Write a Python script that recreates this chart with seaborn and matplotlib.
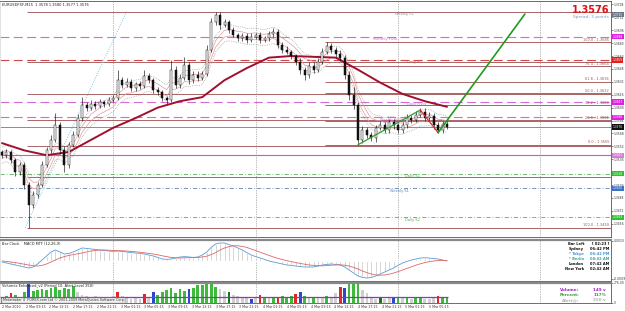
import numpy as np
import pandas as pd
import seaborn as sns
import matplotlib
matplotlib.use("Agg")
import matplotlib.pyplot as plt
from matplotlib.transforms import blended_transform_factory

W, H = 625, 311
pip = 0.0001

# ---- price bars (45 min each, first bar 2 Mar 2010 05:15) ----
first_open = 1.3545
close = [
    1.3541, 1.3545, 1.3535, 1.3520, 1.3529, 1.3504, 1.3479, 1.3492, 1.3504, 1.3529,
    1.3547, 1.3560, 1.3578, 1.3547, 1.3529, 1.3554, 1.3566, 1.3587, 1.3603, 1.3600,
    1.3605, 1.3602, 1.3607, 1.3605, 1.3610, 1.3612, 1.3634, 1.3628, 1.3632, 1.3624,
    1.3629, 1.3627, 1.3639, 1.3634, 1.3622, 1.3619, 1.3612, 1.3610, 1.3647, 1.3628,
    1.3637, 1.3653, 1.3634, 1.3641, 1.3637, 1.3642, 1.3672, 1.3706, 1.3715, 1.3703,
    1.3706, 1.3696, 1.3690, 1.3686, 1.3689, 1.3684, 1.3688, 1.3690, 1.3684, 1.3686,
    1.3691, 1.3694, 1.3678, 1.3672, 1.3669, 1.3664, 1.3657, 1.3647, 1.3641, 1.3652,
    1.3647, 1.3657, 1.3669, 1.3676, 1.3672, 1.3667, 1.3662, 1.3641, 1.3616, 1.3603,
    1.3560, 1.3572, 1.3566, 1.3562, 1.3575, 1.3578, 1.3572, 1.3582, 1.3578, 1.3572,
    1.3578, 1.3587, 1.3585, 1.3591, 1.3595, 1.3587, 1.3590, 1.3578, 1.3572, 1.3580,
    1.3576]
wick_up = [3, 4, 3, 3, 4, 3, 4, 5, 4, 5,
           4, 6, 15, 4, 5, 4, 5, 5, 10, 4,
           4, 3, 4, 3, 3, 4, 13, 4, 5, 4,
           3, 4, 8, 4, 3, 3, 3, 3, 12, 5,
           5, 10, 4, 5, 4, 4, 6, 5, 4, 4,
           4, 3, 4, 3, 4, 3, 4, 3, 4, 3,
           4, 5, 4, 3, 4, 3, 3, 4, 3, 5,
           4, 4, 5, 5, 4, 3, 4, 3, 5, 9,
           4, 5, 4, 4, 4, 5, 4, 4, 4, 3,
           4, 5, 4, 5, 4, 4, 4, 3, 4, 4,
           3]
wick_dn = [4, 3, 4, 5, 3, 5, 28, 4, 4, 3,
           3, 3, 3, 5, 9, 4, 3, 3, 3, 4,
           3, 4, 3, 4, 3, 3, 3, 4, 3, 4,
           3, 4, 3, 4, 4, 3, 4, 5, 3, 4,
           4, 3, 5, 3, 4, 3, 3, 3, 4, 5,
           3, 4, 3, 4, 3, 4, 3, 3, 4, 3,
           3, 3, 4, 4, 3, 4, 4, 5, 7, 4,
           4, 3, 3, 3, 4, 4, 4, 5, 6, 5,
           6, 4, 4, 3, 4, 3, 4, 3, 4, 3,
           3, 3, 4, 3, 3, 4, 3, 4, 3, 4,
           3]

# slow moving average, read every 5 bars
ma_bar = list(range(0, 101, 5))
ma_slow = [1.3556, 1.3547, 1.3541, 1.3545, 1.3560, 1.3575, 1.3587, 1.3600, 1.3608, 1.3613,
           1.3634, 1.3649, 1.3662, 1.3664, 1.3663, 1.3662, 1.3647, 1.3631, 1.3617, 1.3608,
           1.3601]

# MACD in 1e-5
macd_main = [-5, -10, -15, -20, -25, -30, -35, -30, -15, 5,
             25, 45, 55, 45, 35, 38, 45, 55, 65, 63,
             60, 58, 55, 52, 50, 48, 50, 48, 45, 42,
             40, 38, 35, 30, 25, 18, 10, 8, 10, 15,
             20, 22, 20, 18, 20, 30, 45, 68, 85, 90,
             90, 82, 75, 65, 55, 42, 30, 22, 15, 8,
             0, -5, -10, -15, -20, -22, -25, -28, -30, -30,
             -30, -25, -20, -17, -15, -17, -20, -30, -45, -60,
             -75, -82, -85, -82, -75, -65, -55, -45, -35, -22,
             -10, -2, 5, 10, 15, 16, 15, 12, 10, 5,
             0]
macd_signal = [0, -2, -5, -8, -12, -16, -20, -24, -25, -22,
               -15, -5, 5, 15, 22, 28, 32, 36, 40, 45,
               50, 53, 55, 55, 54, 53, 52, 51, 50, 48,
               46, 44, 41, 38, 35, 31, 26, 22, 18, 16,
               15, 16, 17, 18, 18, 20, 24, 32, 42, 55,
               65, 72, 76, 76, 73, 68, 60, 52, 44, 36,
               28, 20, 13, 7, 2, -3, -8, -12, -16, -20,
               -22, -24, -24, -23, -21, -20, -19, -21, -25, -32,
               -40, -50, -58, -65, -70, -71, -70, -66, -60, -53,
               -45, -37, -29, -21, -14, -8, -3, 0, 2, 3,
               3]

# volumes (g green, l grey, r red, b blue, d dark green)
volume = [220, 260, 390, 300, 250, 420, 776, 480, 520, 560,
          500, 600, 640, 520, 600, 560, 660, 420, 320, 260,
          230, 280, 240, 200, 180, 260, 420, 260, 180, 160,
          200, 170, 360, 220, 420, 300, 440, 520, 600, 380,
          560, 480, 540, 600, 680, 700, 776, 740, 620, 560,
          480, 440, 300, 260, 240, 200, 150, 200, 310, 220,
          180, 240, 200, 260, 230, 280, 330, 430, 280, 240,
          220, 180, 200, 260, 220, 380, 620, 600, 760, 740,
          720, 520, 380, 200, 160, 220, 150, 180, 200, 220,
          180, 240, 160, 220, 200, 140, 160, 180, 260, 230,
          200]
vol_kind = ("ggrglgbggg" "ggggggglll" "llllllrlll" "llrlbggggg" "ggbggggggl"
            "ldllllblrg" "lgrgggrbgl" "gllgllrbgg" "glllldllbg" "lglgglllrg" "g")
alert_level = 250

# fibonacci sets and pivot levels
fib_a = [1.3719, 1.3656, 1.3617, 1.3585, 1.3553, 1.3514, 1.3451]
fib_a_start = 5.6
fib_a_anchor = [5.2, 28.0]
fib_b = [1.3681, 1.3651, 1.3632, 1.3618, 1.3603, 1.3584, 1.3554]
fib_b_start = 72.6
fib_b_labels = ["100.0 - 1.3685", "76.4 - 1.3664", "61.8 - 1.3636", "50.0 - 1.3622",
                "38.2 - 1.3608", "23.6 - 1.3591", "0.0 - 1.3555"]

level_names = ["Monthly Pivot", "Daily R1", "Daily Pivot", "Weekly Pivot", "",
               "Daily S1", "Weekly S1", "Daily S2"]
level_prices = [1.3688, 1.3659, 1.3607, 1.3588, 1.3541, 1.3518, 1.3500, 1.3464]

# drawn trend lines
trend_bar = [80, 94, 98, 117.5]
trend_price = [1.3554, 1.3597, 1.3569, 1.3716]

# ---- figure ----
sns.set_theme(style="white")
plt.rcParams["font.family"] = ["DejaVu Sans"]

fig = plt.figure(figsize=(W / 100, H / 100), dpi=100)
fig.patch.set_facecolor("white")


def panel(top, bottom):
    return fig.add_axes([0, 1 - bottom / H, 611 / W, (bottom - top) / H])


ax = panel(1, 237)
ax_m = panel(240, 281)
ax_v = panel(283, 303)
XMIN, XMAX = -0.45, 136.85

xs = np.arange(len(close))
c = np.array(close)
o = np.array([first_open] + close[:-1])
hi = np.maximum(o, c) + np.array(wick_up) * pip
lo = np.minimum(o, c) - np.array(wick_dn) * pip

# levels
for p in fib_a:
    ax.hlines(p, fib_a_start, XMAX, color="#a86464", lw=0.7, zorder=1)
for p in fib_b:
    ax.hlines(p, fib_b_start, XMAX, color="#a86464", lw=0.7, zorder=1)
ax.plot(fib_a_anchor, [fib_a[-1], fib_a[0]], color="#7cc6df", lw=0.7, ls=(0, (1, 1.5)), zorder=1)

lvl_colors = ["#d46ad4", "#d24848", "#d46ad4", "#d46ad4", "#c45cc4", "#58b058", "#5f84b4", "#58b058"]
lvl_styles = [(0, (8, 4)), (0, (8, 4)), (0, (8, 4)), (0, (8, 4)), "-",
              (0, (5, 2.5, 1, 2.5)), (0, (5, 2.5, 1, 2.5)), (0, (5, 2.5, 1, 2.5))]
lvl_lw = [0.8, 0.8, 0.8, 0.8, 0.8, 0.6, 0.6, 0.6]
lvl_text_x = [83.4, 91, 91, 85, None, 90.5, 87.2, 90.5]
for p, nm, col, ls, lw, tx in zip(level_prices, level_names, lvl_colors, lvl_styles, lvl_lw, lvl_text_x):
    ax.axhline(p, color=col, ls=ls, lw=lw, zorder=1)
    if nm:
        ax.text(tx, p - 0.4 * pip, nm, fontsize=2.6, color=col, va="top", ha="left", zorder=2)
ax.text(88.3, fib_a[0] - 0.4 * pip, "Weekly R1", fontsize=2.6, color="#8090a8", va="top", zorder=2)

for p, lab in zip(fib_b, fib_b_labels):
    ax.text(XMAX - 0.4, p + 0.5 * pip, lab, fontsize=2.5, color="#a05050", ha="right", va="bottom")
ax.text(XMAX - 0.4, fib_a[-1] + 0.5 * pip, "100.0 - 1.3450", fontsize=2.5, color="#a05050",
        ha="right", va="bottom")

# current price line
ax.axhline(close[-1], color="#7a7a7a", lw=0.6, zorder=1)

# ribbons around price
mid = pd.Series(close).ewm(span=6).mean()
for off, col, ls in [(0.0004, "#e09a9a", "-"), (-0.0004, "#e09a9a", "-"),
                     (0.0010, "#8c8c8c", ":"), (-0.0010, "#8c8c8c", ":")]:
    sns.lineplot(x=xs, y=mid + off, ax=ax, color=col, lw=0.5, linestyle=ls, zorder=3)
sns.lineplot(x=ma_bar, y=ma_slow, ax=ax, color="#a0102e", lw=1.4, zorder=3)

# candles
ax.vlines(xs, lo, hi, color="#111111", lw=0.45, zorder=4)
bull = c >= o
ax.bar(xs, np.maximum(np.abs(c - o), 0.6 * pip), bottom=np.minimum(o, c), width=0.45,
       color=np.where(bull, "white", "#111111"), edgecolor="#111111", lw=0.35, zorder=5)

# trend lines
seg_col = ["#2ea02e", "#d03030", "#1f9a1f"]
seg_lw = [0.9, 0.9, 1.2]
for k in range(3):
    ax.plot(trend_bar[k:k + 2], trend_price[k:k + 2], color=seg_col[k], lw=seg_lw[k], zorder=6)

ax.set_ylim(1.34396, 1.37322)
ticks = [1.3728 - 0.0016 * k for k in range(18)]
ax.set_yticks(ticks)
ax.set_yticklabels([f"{t:.4f}" for t in ticks])

# right axis markers
tr = blended_transform_factory(ax.transAxes, ax.transData)
markers = [(1.3715, "#6f7888"), (1.3688, "#e020e0"), (1.3659, "#e02020"),
           (1.3607, "#e020e0"), (1.3588, "#e020e0"), (1.3576, "#111111"),
           (1.3541, "#d77ed7"), (1.3518, "#30c030"), (1.3500, "#4070c0"),
           (1.3464, "#30c030")]
for p, bg in markers:
    ax.text(1.003, p, f"{p:.4f}", transform=tr, fontsize=2.1, color="white", va="center", ha="left",
            bbox=dict(boxstyle="square,pad=0.2", fc=bg, ec="none"), clip_on=False, zorder=10)

# ---- MACD panel ----
ax_m.bar(xs, macd_main, width=0.45, color="#bdbdbd", zorder=1)
sns.lineplot(x=xs, y=macd_main, ax=ax_m, color="#5b9bd5", lw=0.6, zorder=3)
sns.lineplot(x=xs, y=macd_signal, ax=ax_m, color="#e06666", lw=0.6, zorder=3)
ax_m.set_ylim(-100, 105)
ax_m.set_yticks([100, -90])
ax_m.set_yticklabels(["0.0010", "-0.0009"])

# ---- volume panel ----
vol_pal = {"g": "#3dbb3d", "l": "#cfcfcf", "r": "#e02828", "b": "#2a48c8", "d": "#137a13"}
ax_v.bar(xs, volume, width=0.62, color=[vol_pal[k] for k in vol_kind], edgecolor="none", zorder=2)
ax_v.hlines(alert_level, XMIN, 100.3, color="#9b2fc0", lw=0.9, zorder=3)
ax_v.set_ylim(0, 776)
ax_v.set_yticks([776, 0])
ax_v.set_yticklabels(["776.00", "0"])

# time axis
t0 = pd.Timestamp("2010-03-02 05:15")
step = pd.Timedelta(minutes=45)
label_times = pd.date_range("2010-03-02 09:15", "2010-03-05 05:15", freq="4h")
pos = [0.0] + [(t - t0) / step for t in label_times]
labs = ["2 Mar 2010"] + [f"{t.day} Mar {t:%H:%M}" for t in label_times]
ax_v.set_xticks(pos)
ax_v.set_xticklabels(labs)
for lab in ax_v.get_xticklabels():
    lab.set_ha("left")
day_breaks = [(t - t0) / step for t in pd.date_range("2010-03-03", "2010-03-06", freq="D")]

for a in (ax, ax_m, ax_v):
    a.set_xlim(XMIN, XMAX)
    a.set_facecolor("white")
    a.yaxis.tick_right()
    a.tick_params(axis="y", labelsize=2.2, length=1.2, width=0.4, pad=0.5, colors="#333333")
    a.grid(False)
    for p in day_breaks:
        a.axvline(p, color="#777777", lw=0.5, ls=(0, (1, 1.5)), zorder=0)
    for s in a.spines.values():
        s.set_color("#555555")
        s.set_linewidth(0.6)
    a.spines["left"].set_color("#dddddd")
    a.set_xlabel("")
    a.set_ylabel("")
for a in (ax, ax_m):
    a.set_xticks([])
for a in (ax_m, ax_v):
    a.spines["top"].set_color("#888888")
    a.spines["top"].set_linewidth(1.6)
ax_v.tick_params(axis="x", labelsize=2.3, length=1.2, width=0.4, pad=0.5, colors="#333333")


def ftxt(x, y, s, **kw):
    kw.setdefault("fontsize", 2.6)
    kw.setdefault("va", "center")
    fig.text(x / W, 1 - y / H, s, **kw)


ftxt(2, 4.5, "EURUSDFXF,M15  1.3578 1.3580 1.3577 1.3576", color="#222222")
ftxt(609, 10, "1.3576", fontsize=7, fontweight="bold", color="#e01010", ha="right")
ftxt(609, 17, "Spread: 3 points", fontsize=3.2, color="#7f9ab8", ha="right")
ftxt(2, 244, "Bar Clock    MACD MTF (12,26,9)", color="#222222")
ftxt(2, 285.5, "Volumes Enhanced_v2 (Period 10, Alert Level 250)", color="#222222")
ftxt(3, 300.5, "Metatrader 4  FOREX.com Ltd \u00a9 2001-2009 MetaQuotes Software Corp.",
     fontsize=2.4, color="#333333",
     bbox=dict(boxstyle="square,pad=0.15", fc="#f2f2f2", ec="#999999", lw=0.3))

clock_rows = [("Bar Left", "[ 02:23 ]", "#111111"), ("Sydney", "06:42 PM", "#111111"),
              ("* Tokyo", "06:42 PM", "#4a90d0"), ("* Berlin", "08:42 AM", "#3aa9a0"),
              ("London", "07:42 AM", "#111111"), ("New York", "02:42 AM", "#111111")]
for k, (a, b, col) in enumerate(clock_rows):
    y = 244 + 4.9 * k
    ftxt(584, y, a, color=col, fontweight="bold", ha="right")
    ftxt(609, y, b, color=col, fontweight="bold", ha="right")

vol_rows = [("Volume:", "149 v", "#a020c0"), ("Percent:", "117%", "#30a030"), ("Alert@:", "250 v", "#b0b0b0")]
for k, (a, b, col) in enumerate(vol_rows):
    y = 290 + 5 * k
    ftxt(579, y, a, color=col, fontweight="bold", ha="right", fontsize=3.0)
    ftxt(606, y, b, color=col, fontweight="bold", ha="right", fontsize=3.0)

fig.savefig("out.png", dpi=100)
